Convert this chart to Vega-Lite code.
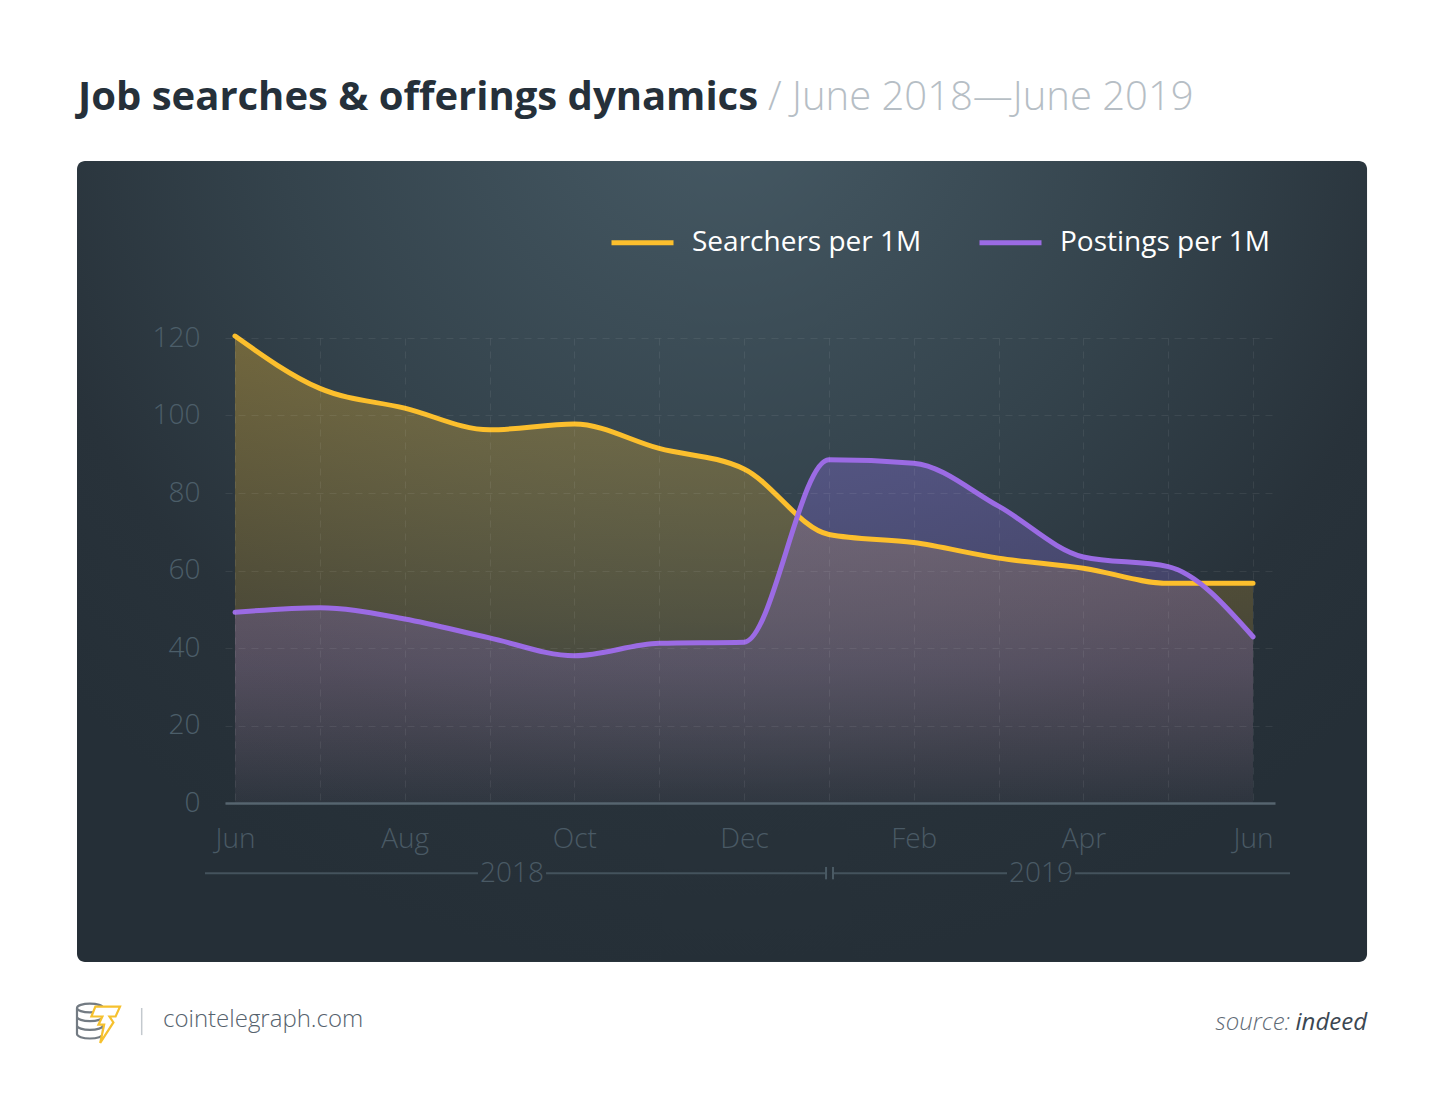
{
  "$schema": "https://vega.github.io/schema/vega-lite/v6.json",
  "autosize": {"type": "none"},
  "width": 1050,
  "height": 465,
  "padding": {"left": 225, "top": 338, "right": 175, "bottom": 312},
  "background": "#ffffff",
  "config": {
    "font": "Open Sans",
    "view": {"stroke": null},
    "text": {"font": "Open Sans"}
  },
  "datasets": {
    "jobs": [
      {"month": "2018-06", "m": 0, "series": "Searchers per 1M", "value": 120.5},
      {"month": "2018-07", "m": 1, "series": "Searchers per 1M", "value": 107.0},
      {"month": "2018-08", "m": 2, "series": "Searchers per 1M", "value": 101.9},
      {"month": "2018-09", "m": 3, "series": "Searchers per 1M", "value": 96.3},
      {"month": "2018-10", "m": 4, "series": "Searchers per 1M", "value": 97.8},
      {"month": "2018-11", "m": 5, "series": "Searchers per 1M", "value": 91.5},
      {"month": "2018-12", "m": 6, "series": "Searchers per 1M", "value": 86.2},
      {"month": "2019-01", "m": 7, "series": "Searchers per 1M", "value": 69.3},
      {"month": "2019-02", "m": 8, "series": "Searchers per 1M", "value": 67.2},
      {"month": "2019-03", "m": 9, "series": "Searchers per 1M", "value": 63.2},
      {"month": "2019-04", "m": 10, "series": "Searchers per 1M", "value": 60.6},
      {"month": "2019-05", "m": 11, "series": "Searchers per 1M", "value": 56.7},
      {"month": "2019-06", "m": 12, "series": "Searchers per 1M", "value": 56.7},
      {"month": "2018-06", "m": 0, "series": "Postings per 1M", "value": 49.2},
      {"month": "2018-07", "m": 1, "series": "Postings per 1M", "value": 50.4},
      {"month": "2018-08", "m": 2, "series": "Postings per 1M", "value": 47.5},
      {"month": "2018-09", "m": 3, "series": "Postings per 1M", "value": 42.6},
      {"month": "2018-10", "m": 4, "series": "Postings per 1M", "value": 38.0},
      {"month": "2018-11", "m": 5, "series": "Postings per 1M", "value": 41.2},
      {"month": "2018-12", "m": 6, "series": "Postings per 1M", "value": 41.5},
      {"month": "2019-01", "m": 7, "series": "Postings per 1M", "value": 88.6},
      {"month": "2019-02", "m": 8, "series": "Postings per 1M", "value": 87.7},
      {"month": "2019-03", "m": 9, "series": "Postings per 1M", "value": 76.6},
      {"month": "2019-04", "m": 10, "series": "Postings per 1M", "value": 63.5},
      {"month": "2019-05", "m": 11, "series": "Postings per 1M", "value": 61.0},
      {"month": "2019-06", "m": 12, "series": "Postings per 1M", "value": 42.9}
    ]
  },
  "layer": [
    {
      "data": {"values": [{"panel": "background"}]},
      "mark": {
        "type": "rect",
        "cornerRadius": 8,
        "fill": {
          "gradient": "radial",
          "x1": 0.5, "y1": 0.12, "r1": 0,
          "x2": 0.5, "y2": 0.12, "r2": 0.7,
          "stops": [
            {"offset": 0, "color": "#475b66"},
            {"offset": 0.5, "color": "#34434c"},
            {"offset": 0.8, "color": "#28323a"},
            {"offset": 1, "color": "#252f37"}
          ]
        }
      },
      "encoding": {
        "x": {"datum": -1.8625, "type": "quantitative", "scale": {"domain": [-0.118, 12.259], "nice": false, "zero": false}},
        "x2": {"datum": 13.344},
        "y": {"datum": 165.7, "type": "quantitative", "scale": {"domain": [0, 120], "nice": false, "zero": false}},
        "y2": {"datum": -41.0}
      }
    },
    {
      "data": {"name": "jobs"},
      "transform": [{"filter": "datum.series === 'Searchers per 1M'"}],
      "mark": {
        "type": "area",
        "interpolate": "monotone",
        "fill": {
          "gradient": "linear", "x1": 0, "y1": 0, "x2": 0, "y2": 1,
          "stops": [
            {"offset": 0, "color": "rgba(252,191,45,0.32)"},
            {"offset": 0.6, "color": "rgba(252,191,45,0.17)"},
            {"offset": 1, "color": "rgba(252,191,45,0.02)"}
          ]
        }
      },
      "encoding": {
        "x": {"field": "m", "type": "quantitative", "title": null, "scale": {"domain": [-0.118, 12.259], "nice": false, "zero": false}},
        "y": {"field": "value", "type": "quantitative", "title": null, "scale": {"domain": [0, 120], "nice": false, "zero": false}}
      }
    },
    {
      "data": {"name": "jobs"},
      "transform": [{"filter": "datum.series === 'Postings per 1M'"}],
      "mark": {
        "type": "area",
        "interpolate": "monotone",
        "fill": {
          "gradient": "linear", "x1": 0, "y1": 0, "x2": 0, "y2": 1,
          "stops": [
            {"offset": 0, "color": "rgba(145,115,235,0.32)"},
            {"offset": 0.6, "color": "rgba(145,115,235,0.21)"},
            {"offset": 1, "color": "rgba(145,115,235,0.04)"}
          ]
        }
      },
      "encoding": {
        "x": {"field": "m", "type": "quantitative", "title": null, "scale": {"domain": [-0.118, 12.259], "nice": false, "zero": false}},
        "y": {"field": "value", "type": "quantitative", "title": null, "scale": {"domain": [0, 120], "nice": false, "zero": false}}
      }
    },
    {
      "data": {"name": "jobs"},
      "mark": {"type": "line", "interpolate": "monotone", "strokeWidth": 5, "strokeCap": "round", "strokeJoin": "round"},
      "encoding": {
        "x": {
          "field": "m", "type": "quantitative", "title": null,
          "scale": {"domain": [-0.118, 12.259], "nice": false, "zero": false},
          "axis": {
            "values": [0, 1, 2, 3, 4, 5, 6, 7, 8, 9, 10, 11, 12],
            "labelExpr": "['Jun','','Aug','','Oct','','Dec','','Feb','','Apr','','Jun'][datum.value]",
            "grid": true, "gridDash": [7, 6], "gridColor": "#ffffff", "gridOpacity": 0.07,
            "ticks": false,
            "domainColor": "#56656f", "domainWidth": 2.5,
            "labelFont": "Open Sans", "labelFontSize": 28, "labelFontWeight": 300, "labelColor": "#4a5a65",
            "labelPadding": 22, "labelFlush": false, "labelOverlap": false,
            "zindex": 1
          }
        },
        "y": {
          "field": "value", "type": "quantitative", "title": null,
          "scale": {"domain": [0, 120], "nice": false, "zero": false},
          "axis": {
            "values": [0, 20, 40, 60, 80, 100, 120],
            "grid": true, "gridDash": [7, 6], "gridColor": "#ffffff", "gridOpacity": 0.07,
            "ticks": false, "domain": false,
            "labelFont": "Open Sans", "labelFontSize": 28, "labelFontWeight": 300, "labelColor": "#4c5e69",
            "labelPadding": 25,
            "zindex": 1
          }
        },
        "color": {
          "field": "series", "type": "nominal",
          "scale": {"domain": ["Searchers per 1M", "Postings per 1M"], "range": ["#fcbf2d", "#9b6be4"]},
          "legend": {
            "title": null,
            "orient": "none", "legendX": 384, "legendY": -129,
            "direction": "horizontal",
            "symbolType": "stroke", "symbolSize": 3844, "symbolStrokeWidth": 5,
            "labelFont": "Open Sans", "labelFontSize": 28, "labelColor": "#ffffff", "labelLimit": 0,
            "labelOffset": 16, "columnPadding": 47, "padding": 0
          }
        }
      }
    },
    {
      "data": {"values": [{"year": "2018"}]},
      "mark": {"type": "rule", "stroke": "#44535d", "strokeWidth": 2},
      "encoding": {
        "x": {"datum": -0.354, "type": "quantitative", "scale": {"domain": [-0.118, 12.259], "nice": false, "zero": false}},
        "x2": {"datum": 2.864},
        "y": {"datum": -18.1, "type": "quantitative", "scale": {"domain": [0, 120], "nice": false, "zero": false}}
      }
    },
    {
      "data": {"values": [{"year": "2018"}]},
      "mark": {"type": "rule", "stroke": "#44535d", "strokeWidth": 2},
      "encoding": {
        "x": {"datum": 3.666, "type": "quantitative", "scale": {"domain": [-0.118, 12.259], "nice": false, "zero": false}},
        "x2": {"datum": 6.967},
        "y": {"datum": -18.1, "type": "quantitative", "scale": {"domain": [0, 120], "nice": false, "zero": false}}
      }
    },
    {
      "data": {"values": [{"year": "2019"}]},
      "mark": {"type": "rule", "stroke": "#44535d", "strokeWidth": 2},
      "encoding": {
        "x": {"datum": 7.049, "type": "quantitative", "scale": {"domain": [-0.118, 12.259], "nice": false, "zero": false}},
        "x2": {"datum": 9.1},
        "y": {"datum": -18.1, "type": "quantitative", "scale": {"domain": [0, 120], "nice": false, "zero": false}}
      }
    },
    {
      "data": {"values": [{"year": "2019"}]},
      "mark": {"type": "rule", "stroke": "#44535d", "strokeWidth": 2},
      "encoding": {
        "x": {"datum": 9.902, "type": "quantitative", "scale": {"domain": [-0.118, 12.259], "nice": false, "zero": false}},
        "x2": {"datum": 12.436},
        "y": {"datum": -18.1, "type": "quantitative", "scale": {"domain": [0, 120], "nice": false, "zero": false}}
      }
    },
    {
      "data": {"values": [{"year": "2018"}]},
      "mark": {"type": "rule", "stroke": "#4a5a64", "strokeWidth": 2},
      "encoding": {
        "x": {"datum": 6.967, "type": "quantitative", "scale": {"domain": [-0.118, 12.259], "nice": false, "zero": false}},
        "y": {"datum": -16.5, "type": "quantitative", "scale": {"domain": [0, 120], "nice": false, "zero": false}},
        "y2": {"datum": -19.7}
      }
    },
    {
      "data": {"values": [{"year": "2019"}]},
      "mark": {"type": "rule", "stroke": "#4a5a64", "strokeWidth": 2},
      "encoding": {
        "x": {"datum": 7.049, "type": "quantitative", "scale": {"domain": [-0.118, 12.259], "nice": false, "zero": false}},
        "y": {"datum": -16.5, "type": "quantitative", "scale": {"domain": [0, 120], "nice": false, "zero": false}},
        "y2": {"datum": -19.7}
      }
    },
    {
      "data": {"values": [{"year": "2018", "at": 3.265}, {"year": "2019", "at": 9.501}]},
      "mark": {"type": "text", "fontSize": 28, "fontWeight": 300, "color": "#4a5a65", "align": "center", "baseline": "alphabetic"},
      "encoding": {
        "x": {"field": "at", "type": "quantitative", "title": null, "scale": {"domain": [-0.118, 12.259], "nice": false, "zero": false}},
        "y": {"datum": -20.4, "type": "quantitative", "scale": {"domain": [0, 120], "nice": false, "zero": false}},
        "text": {"field": "year"}
      }
    },
    {
      "data": {"values": [{"label": "Job searches & offerings dynamics"}]},
      "mark": {"type": "text", "fontSize": 40, "fontWeight": "bold", "color": "#25303a", "align": "left", "baseline": "alphabetic"},
      "encoding": {
        "x": {"datum": -1.8507, "type": "quantitative", "scale": {"domain": [-0.118, 12.259], "nice": false, "zero": false}},
        "y": {"datum": 178.84, "type": "quantitative", "scale": {"domain": [0, 120], "nice": false, "zero": false}},
        "text": {"field": "label"}
      }
    },
    {
      "data": {"values": [{"label": "/ June 2018—June 2019"}]},
      "mark": {"type": "text", "fontSize": 40, "fontWeight": 300, "color": "#b6bec5", "align": "left", "baseline": "alphabetic"},
      "encoding": {
        "x": {"datum": 6.283, "type": "quantitative", "scale": {"domain": [-0.118, 12.259], "nice": false, "zero": false}},
        "y": {"datum": 178.84, "type": "quantitative", "scale": {"domain": [0, 120], "nice": false, "zero": false}},
        "text": {"field": "label"}
      }
    },
    {
      "data": {"values": [{"part": "coins"}]},
      "mark": {
        "type": "point", "filled": false, "size": 1936, "stroke": "#39444f", "strokeWidth": 2.2,
        "shape": "M -0.955 -0.636 A 0.59 0.2 0 0 1 0.225 -0.636 A 0.59 0.2 0 0 1 -0.955 -0.636 M -0.955 -0.636 L -0.955 0.55 M 0.225 -0.636 L 0.225 0.55 M -0.955 -0.24 A 0.59 0.2 0 0 0 0.225 -0.24 M -0.955 0.16 A 0.59 0.2 0 0 0 0.225 0.16 M -0.955 0.55 A 0.59 0.2 0 0 0 0.225 0.55"
      },
      "encoding": {
        "x": {"datum": -1.615, "type": "quantitative", "scale": {"domain": [-0.118, 12.259], "nice": false, "zero": false}},
        "y": {"datum": -56.52, "type": "quantitative", "scale": {"domain": [0, 120], "nice": false, "zero": false}}
      }
    },
    {
      "data": {"values": [{"part": "bolt"}]},
      "mark": {
        "type": "point", "filled": false, "size": 1936, "fill": "#ffffff", "fillOpacity": 1, "stroke": "#f6c12e", "strokeWidth": 2.2,
        "shape": "M -0.12 -0.7 L 1.0 -0.7 L 0.8 -0.25 L 0.52 -0.25 L 0.7 0.02 L 0.1 0.95 L 0.28 0.12 L 0.02 0.12 L 0.2 -0.25 L -0.3 -0.25 Z"
      },
      "encoding": {
        "x": {"datum": -1.615, "type": "quantitative", "scale": {"domain": [-0.118, 12.259], "nice": false, "zero": false}},
        "y": {"datum": -56.52, "type": "quantitative", "scale": {"domain": [0, 120], "nice": false, "zero": false}}
      }
    },
    {
      "data": {"values": [{"label": "separator"}]},
      "mark": {"type": "rule", "stroke": "#c3c9ce", "strokeWidth": 1.5},
      "encoding": {
        "x": {"datum": -1.1, "type": "quantitative", "scale": {"domain": [-0.118, 12.259], "nice": false, "zero": false}},
        "y": {"datum": -52.9, "type": "quantitative", "scale": {"domain": [0, 120], "nice": false, "zero": false}},
        "y2": {"datum": -59.9}
      }
    },
    {
      "data": {"values": [{"label": "cointelegraph.com"}]},
      "mark": {"type": "text", "fontSize": 24, "fontWeight": 300, "color": "#56626d", "align": "left", "baseline": "alphabetic"},
      "encoding": {
        "x": {"datum": -0.849, "type": "quantitative", "scale": {"domain": [-0.118, 12.259], "nice": false, "zero": false}},
        "y": {"datum": -57.8, "type": "quantitative", "scale": {"domain": [0, 120], "nice": false, "zero": false}},
        "text": {"field": "label"}
      }
    },
    {
      "data": {"values": [{"label": "source:"}]},
      "mark": {"type": "text", "fontSize": 24, "fontWeight": 300, "fontStyle": "italic", "color": "#5f6b76", "align": "right", "baseline": "alphabetic"},
      "encoding": {
        "x": {"datum": 12.436, "type": "quantitative", "scale": {"domain": [-0.118, 12.259], "nice": false, "zero": false}},
        "y": {"datum": -58.6, "type": "quantitative", "scale": {"domain": [0, 120], "nice": false, "zero": false}},
        "text": {"field": "label"}
      }
    },
    {
      "data": {"values": [{"label": "indeed"}]},
      "mark": {"type": "text", "fontSize": 24, "fontStyle": "italic", "color": "#3b4752", "align": "right", "baseline": "alphabetic"},
      "encoding": {
        "x": {"datum": 13.344, "type": "quantitative", "scale": {"domain": [-0.118, 12.259], "nice": false, "zero": false}},
        "y": {"datum": -58.6, "type": "quantitative", "scale": {"domain": [0, 120], "nice": false, "zero": false}},
        "text": {"field": "label"}
      }
    }
  ]
}
